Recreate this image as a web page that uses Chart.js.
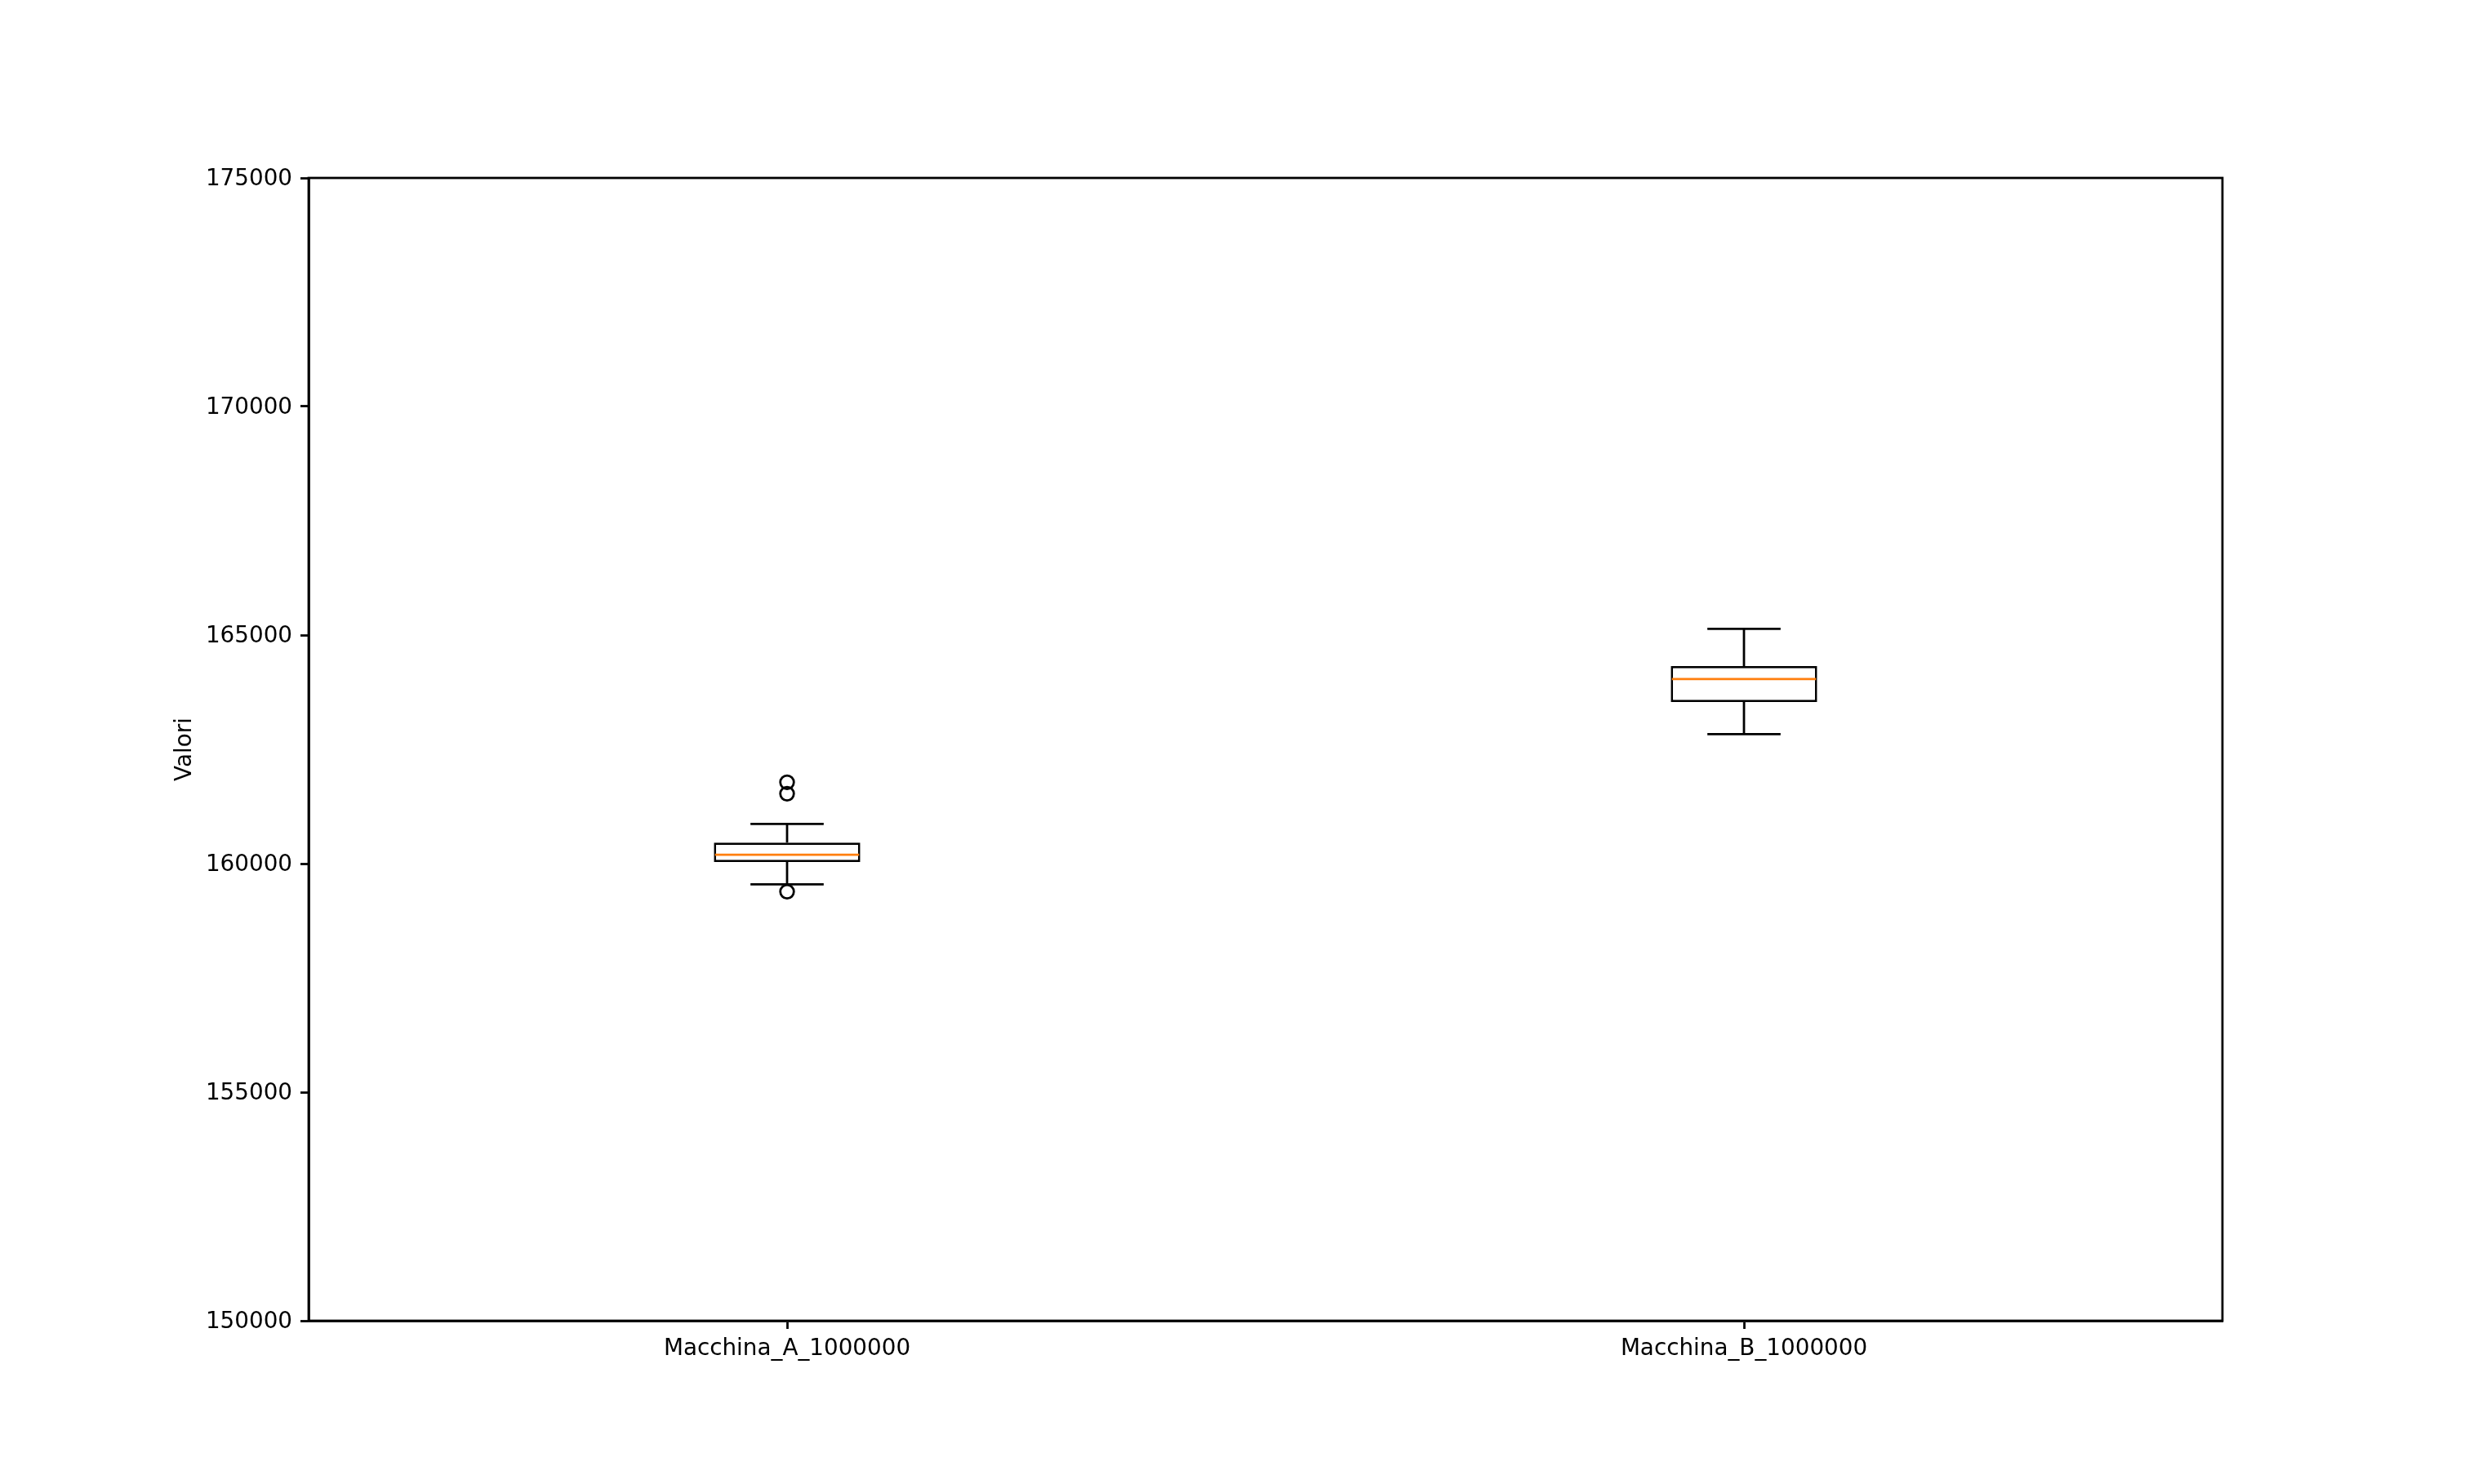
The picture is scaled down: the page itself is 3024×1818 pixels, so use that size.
<!DOCTYPE html>
<html>
<head>
<meta charset="utf-8">
<script src="https://cdn.jsdelivr.net/npm/chart.js@4.4.1/dist/chart.umd.min.js"></script>
<style>
  html, body { margin: 0; padding: 0; background: #ffffff; }
  canvas { display: block; }
</style>
</head>
<body>
<canvas id="c" width="3024" height="1818"></canvas>
<script>
// ---- Data ----
const categories = ['Macchina_A_1000000', 'Macchina_B_1000000'];
const q1Values = [160036, 163536];
const q3Values = [160459, 164321];
const medianValues = [160196, 164036];
const whiskerLow = [159548, 162834];
const whiskerHigh = [160869, 165137];
const outliersA = [161780, 161530, 159387];
const outliersB = [];
const yTicks = [150000, 155000, 160000, 165000, 170000, 175000];
const yLabel = 'Valori';

const outlierPoints = [];
[outliersA, outliersB].forEach((arr, i) => {
  arr.forEach(v => outlierPoints.push({ x: categories[i], y: v }));
});

const LW = 2.78;
const FONT = 'DejaVu Sans';
const FS = 27.8;

const boxPlugin = {
  id: 'boxParts',
  afterDatasetsDraw(chart) {
    const ctx = chart.ctx;
    const y = chart.scales.y;
    const meta = chart.getDatasetMeta(0);
    ctx.save();
    ctx.lineWidth = LW;
    ctx.lineCap = 'butt';
    meta.data.forEach((bar, i) => {
      const cx = bar.x;
      const half = bar.width / 2;
      const capHalf = bar.width / 4;
      const pQ1 = y.getPixelForValue(q1Values[i]);
      const pQ3 = y.getPixelForValue(q3Values[i]);
      const pLo = y.getPixelForValue(whiskerLow[i]);
      const pHi = y.getPixelForValue(whiskerHigh[i]);
      const pMed = y.getPixelForValue(medianValues[i]);
      ctx.strokeStyle = '#000000';
      ctx.beginPath();
      ctx.moveTo(cx, pQ3); ctx.lineTo(cx, pHi);
      ctx.moveTo(cx, pQ1); ctx.lineTo(cx, pLo);
      ctx.moveTo(cx - capHalf, pHi); ctx.lineTo(cx + capHalf, pHi);
      ctx.moveTo(cx - capHalf, pLo); ctx.lineTo(cx + capHalf, pLo);
      ctx.stroke();
      ctx.strokeStyle = '#ff7f0e';
      ctx.beginPath();
      ctx.moveTo(cx - half + LW / 2, pMed); ctx.lineTo(cx + half - LW / 2, pMed);
      ctx.stroke();
    });
    ctx.restore();
  },
  afterDraw(chart) {
    const a = chart.chartArea;
    const ctx = chart.ctx;
    ctx.save();
    ctx.strokeStyle = '#000000';
    ctx.lineWidth = LW;
    ctx.strokeRect(a.left, a.top, a.right - a.left, a.bottom - a.top);
    ctx.restore();
  }
};

new Chart(document.getElementById('c'), {
  type: 'bar',
  data: {
    labels: categories,
    datasets: [
      {
        type: 'bar',
        data: categories.map((c, i) => [q1Values[i], q3Values[i]]),
        backgroundColor: '#ffffff',
        borderColor: '#000000',
        borderWidth: LW,
        borderSkipped: false,
        barPercentage: 0.153,
        categoryPercentage: 1.0,
        order: 2
      },
      {
        type: 'line',
        data: outlierPoints,
        showLine: false,
        pointStyle: 'circle',
        pointRadius: 8.3,
        pointBorderWidth: LW,
        pointBorderColor: '#000000',
        pointBackgroundColor: 'rgba(0,0,0,0)',
        order: 1
      }
    ]
  },
  options: {
    responsive: false,
    devicePixelRatio: 1,
    animation: false,
    layout: { padding: { left: 206, right: 302, top: 218, bottom: 0 } },
    plugins: { legend: { display: false }, tooltip: { enabled: false } },
    scales: {
      x: {
        offset: true,
        grid: { display: true, drawOnChartArea: false, offset: false, tickLength: 10, tickColor: '#000000', tickWidth: LW },
        border: { display: true, color: '#000000', width: LW },
        ticks: { color: '#000000', font: { family: FONT, size: FS }, padding: 8, maxRotation: 0 },
        afterFit: (s) => { s.height = 200; }
      },
      y: {
        min: yTicks[0],
        max: yTicks[yTicks.length - 1],
        afterBuildTicks: (s) => { s.ticks = yTicks.map(v => ({ value: v })); },
        grid: { display: true, drawOnChartArea: false, tickLength: 10, tickColor: '#000000', tickWidth: LW },
        border: { display: true, color: '#000000', width: LW },
        ticks: { color: '#000000', font: { family: FONT, size: FS }, padding: 10, labelOffset: 2, callback: (v) => String(v) },
        title: { display: true, text: yLabel, color: '#000000', font: { family: FONT, size: FS } },
        afterFit: (s) => { s.width = 172; }
      }
    }
  },
  plugins: [boxPlugin]
});
</script>
</body>
</html>
